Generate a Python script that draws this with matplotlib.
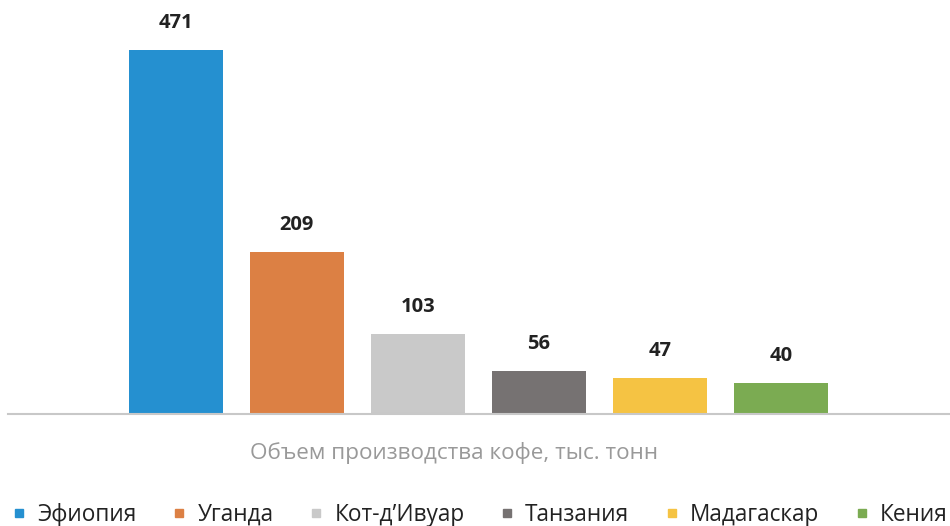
import matplotlib.pyplot as plt
from matplotlib.lines import Line2D

plt.rcParams['font.family'] = ['Open Sans', 'DejaVu Sans']

countries = ['Эфиопия', 'Уганда', 'Кот-д’Ивуар', 'Танзания', 'Мадагаскар', 'Кения']
values = [471, 209, 103, 56, 47, 40]
colors = ['#2590d0', '#dc8044', '#c9c9c9', '#767272', '#f5c343', '#7bab52']
xlabel = 'Объем производства кофе, тыс. тонн'

fig = plt.figure(figsize=(9.5, 5.26), dpi=100)
ax = fig.add_axes([8 / 950, 112 / 526, 942 / 950, 414 / 526])

x = list(range(len(values)))
bars = ax.bar(x, values, width=0.77, color=colors, zorder=2)
for xi, v in zip(x, values):
    ax.annotate(str(v), (xi, v), xytext=(0, 19.5), textcoords='offset points',
                ha='center', va='center', fontsize=14.5, fontweight='bold', color='#222222')

ax.set_xlim(-1.388, 6.397)
ax.set_ylim(0, 535.7)
for s in ['top', 'right', 'left']:
    ax.spines[s].set_visible(False)
ax.spines['bottom'].set_color('#c8c8c8')
ax.spines['bottom'].set_linewidth(1.5)
ax.set_xticks([])
ax.set_yticks([])

fig.text(454 / 950, 1 - 453 / 526, xlabel, ha='center', va='center',
         fontsize=16.2, color='#999999')

handles = [Line2D([], [], marker='s', linestyle='none', markersize=6,
                  markerfacecolor=c, markeredgecolor=c) for c in colors]
fig.legend(handles, countries, loc='center', bbox_to_anchor=(479 / 950, 1 - 515 / 526),
           ncol=6, frameon=False, fontsize=16.3, handletextpad=0.4,
           columnspacing=1.48, handlelength=0.8, labelcolor='#222222',
           borderpad=0, borderaxespad=0)

fig.savefig('out.png', dpi=100)
